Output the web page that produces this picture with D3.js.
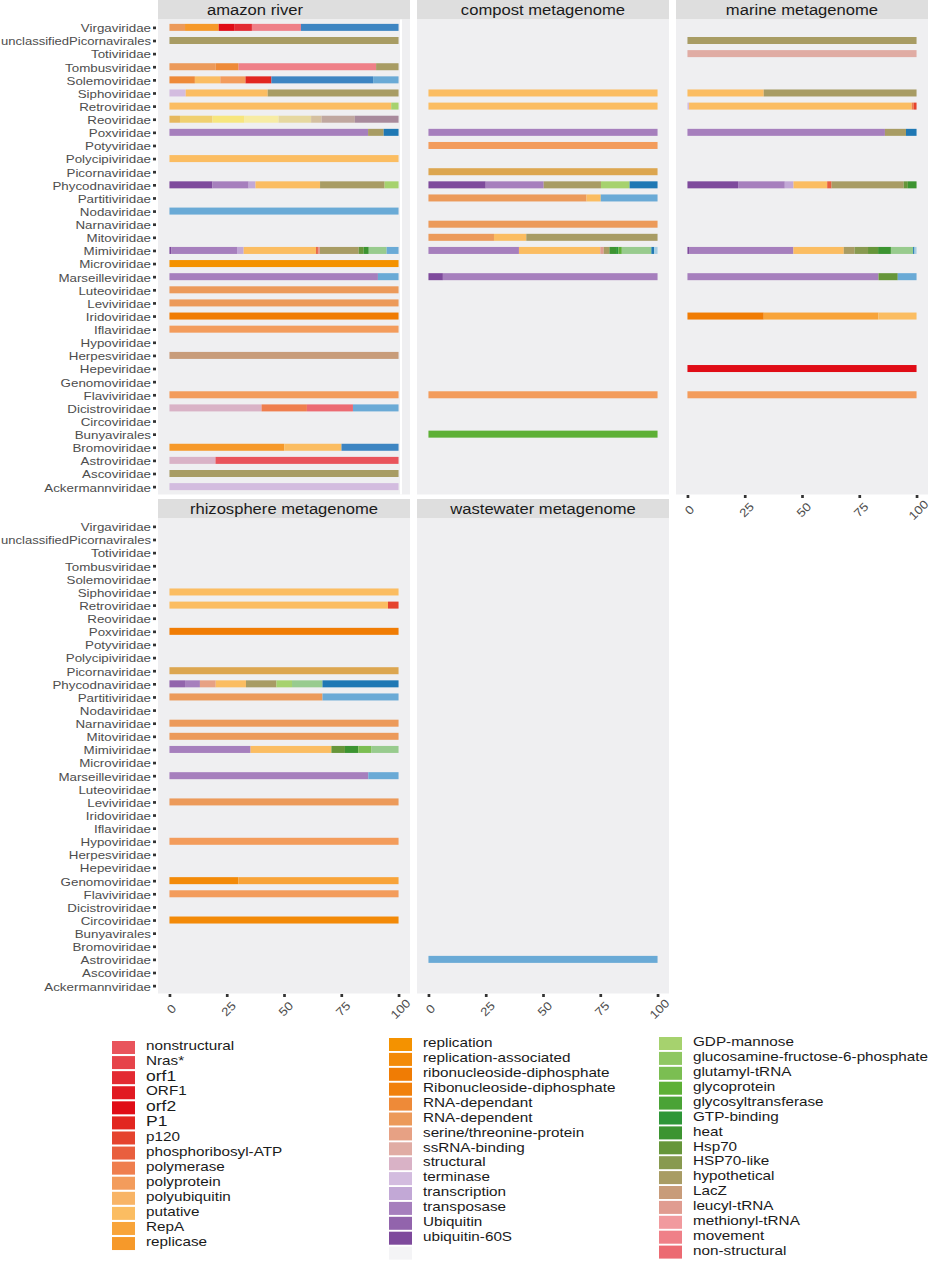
<!DOCTYPE html>
<html>
<head>
<meta charset="UTF-8">
<title>Viral protein annotations by environment</title>
<script src="https://d3js.org/d3.v7.min.js"></script>
<style>
  body { margin: 0; background: #fff; }
  text { font-family: "Liberation Sans", Arial, sans-serif; }
</style>
</head>
<body>
<svg id="chart"></svg>
<script>
// families, top to bottom
const families = ["Virgaviridae", "unclassifiedPicornavirales", "Totiviridae", "Tombusviridae",
  "Solemoviridae", "Siphoviridae", "Retroviridae", "Reoviridae", "Poxviridae", "Potyviridae",
  "Polycipiviridae", "Picornaviridae", "Phycodnaviridae", "Partitiviridae", "Nodaviridae",
  "Narnaviridae", "Mitoviridae", "Mimiviridae", "Microviridae", "Marseilleviridae", "Luteoviridae",
  "Leviviridae", "Iridoviridae", "Iflaviridae", "Hypoviridae", "Herpesviridae", "Hepeviridae",
  "Genomoviridae", "Flaviviridae", "Dicistroviridae", "Circoviridae", "Bunyavirales",
  "Bromoviridae", "Astroviridae", "Ascoviridae", "Ackermannviridae"];

const xTicks = [0, 25, 50, 75, 100];

// protein types, in factor order (legend shows the middle part only)
const hiddenLow = ["ATPase", "capsid", "coat", "DNA", "fiber"];
const hiddenLowColors = ["#a6cee3", "#6aaad6", "#3d85c2", "#1f78b4", "#98cb8e"];

const legendCol3 = ["GDP-mannose", "glucosamine-fructose-6-phosphate", "glutamyl-tRNA", "glycoprotein",
  "glycosyltransferase", "GTP-binding", "heat", "Hsp70", "HSP70-like", "hypothetical", "LacZ",
  "leucyl-tRNA", "methionyl-tRNA", "movement", "non-structural"];
const legendCol3Colors = ["#a6d26e", "#8fc762", "#7bbe52", "#5db036", "#4aa336", "#2e9638", "#3c9431",
  "#66963a", "#889a50", "#a89c64", "#c89c7a", "#e09c90", "#f19a9e", "#ef8088", "#ec6a72"];

const legendCol1 = ["nonstructural", "Nras*", "orf1", "ORF1", "orf2", "P1", "p120", "phosphoribosyl-ATP",
  "polymerase", "polyprotein", "polyubiquitin", "putative", "RepA", "replicase"];
const legendCol1Colors = ["#e9545c", "#e6434a", "#e32a32", "#e11a22", "#e00c16", "#e22620", "#e5432e",
  "#e95f3e", "#ef7e4e", "#f39c5c", "#f8b466", "#fbbd62", "#f8a43a", "#f6992a"];

const legendCol2 = ["replication", "replication-associated", "ribonucleoside-diphosphate",
  "Ribonucleoside-diphosphate", "RNA-dependant", "RNA-dependent", "serine/threonine-protein",
  "ssRNA-binding", "structural", "terminase", "transcription", "transposase", "Ubiquitin", "ubiquitin-60S", ""];
const legendCol2Colors = ["#f49200", "#f38a08", "#f07c04", "#f1800c", "#ee8a38", "#ec9a5a", "#e7a184",
  "#e0aca4", "#d9b2c6", "#d3bcdf", "#c2a8d6", "#a67fbd", "#9264ac", "#7e4a9c", "#f4f4f6"];

const hiddenHigh = ["VP1", "VP2", "VP3", "VP4", "VP5", "VP6", "VP7", "VP8", "VPg"];
const hiddenHighColors = ["#a88a9c", "#c0a8a0", "#d4c0a0", "#e6d8a0", "#f7eca4", "#f7e67e", "#f0d070",
  "#e6b85e", "#dca650"];

// percentage of annotated proteins per family: [family, type, value]
const amazonRiver = [
  ["Virgaviridae", "RNA-dependent", 6.8], ["Virgaviridae", "replicase", 14.7], ["Virgaviridae", "orf2", 7],
  ["Virgaviridae", "orf1", 7.5], ["Virgaviridae", "movement", 21.4], ["Virgaviridae", "coat", 42.6],
  ["unclassifiedPicornavirales", "hypothetical", 100],
  ["Tombusviridae", "RNA-dependent", 20.2], ["Tombusviridae", "RNA-dependant", 10],
  ["Tombusviridae", "movement", 60], ["Tombusviridae", "hypothetical", 9.8],
  ["Solemoviridae", "RNA-dependant", 11.1], ["Solemoviridae", "putative", 11.1], ["Solemoviridae", "polyprotein", 11],
  ["Solemoviridae", "P1", 11.3], ["Solemoviridae", "coat", 44.4], ["Solemoviridae", "capsid", 11.1],
  ["Siphoviridae", "terminase", 7.1], ["Siphoviridae", "putative", 35.8], ["Siphoviridae", "hypothetical", 57.1],
  ["Retroviridae", "putative", 96.8], ["Retroviridae", "GDP-mannose", 3.2],
  ["Reoviridae", "VP8", 4.6], ["Reoviridae", "VP7", 14.2], ["Reoviridae", "VP6", 14], ["Reoviridae", "VP5", 14.9],
  ["Reoviridae", "VP4", 14.2], ["Reoviridae", "VP3", 4.6], ["Reoviridae", "VP2", 14.5], ["Reoviridae", "VP1", 19.1],
  ["Poxviridae", "transposase", 86.7], ["Poxviridae", "hypothetical", 6.8], ["Poxviridae", "DNA", 6.5],
  ["Polycipiviridae", "putative", 100],
  ["Phycodnaviridae", "ubiquitin-60S", 18.8], ["Phycodnaviridae", "transposase", 15.8],
  ["Phycodnaviridae", "transcription", 3], ["Phycodnaviridae", "putative", 28.2],
  ["Phycodnaviridae", "hypothetical", 28.2], ["Phycodnaviridae", "GDP-mannose", 6.1],
  ["Nodaviridae", "capsid", 100],
  ["Mimiviridae", "ubiquitin-60S", 0.9], ["Mimiviridae", "transposase", 28.6], ["Mimiviridae", "transcription", 2.9],
  ["Mimiviridae", "putative", 31.6], ["Mimiviridae", "phosphoribosyl-ATP", 0.8], ["Mimiviridae", "leucyl-tRNA", 0.9],
  ["Mimiviridae", "hypothetical", 16.9], ["Mimiviridae", "Hsp70", 2.2], ["Mimiviridae", "heat", 2.2],
  ["Mimiviridae", "fiber", 7.8], ["Mimiviridae", "capsid", 5.2],
  ["Microviridae", "replication", 100],
  ["Marseilleviridae", "transposase", 91], ["Marseilleviridae", "capsid", 9],
  ["Luteoviridae", "RNA-dependent", 100], ["Leviviridae", "RNA-dependent", 100],
  ["Iridoviridae", "ribonucleoside-diphosphate", 100], ["Iflaviridae", "polyprotein", 100],
  ["Herpesviridae", "LacZ", 100], ["Flaviviridae", "polyprotein", 100],
  ["Dicistroviridae", "structural", 40.2], ["Dicistroviridae", "polymerase", 19.8],
  ["Dicistroviridae", "non-structural", 20.1], ["Dicistroviridae", "capsid", 19.9],
  ["Bromoviridae", "replicase", 50.1], ["Bromoviridae", "putative", 25], ["Bromoviridae", "coat", 24.9],
  ["Astroviridae", "structural", 20.1], ["Astroviridae", "nonstructural", 79.9],
  ["Ascoviridae", "hypothetical", 100], ["Ackermannviridae", "terminase", 100]
];

const compost = [
  ["Siphoviridae", "putative", 100], ["Retroviridae", "putative", 100], ["Poxviridae", "transposase", 100],
  ["Potyviridae", "polyprotein", 100], ["Picornaviridae", "VPg", 100],
  ["Phycodnaviridae", "ubiquitin-60S", 25], ["Phycodnaviridae", "transposase", 25.3],
  ["Phycodnaviridae", "hypothetical", 25], ["Phycodnaviridae", "GDP-mannose", 12.5], ["Phycodnaviridae", "DNA", 12.2],
  ["Partitiviridae", "RNA-dependent", 69], ["Partitiviridae", "putative", 6.2], ["Partitiviridae", "capsid", 24.8],
  ["Narnaviridae", "RNA-dependent", 100],
  ["Mitoviridae", "RNA-dependent", 28.6], ["Mitoviridae", "putative", 14.1], ["Mitoviridae", "hypothetical", 57.3],
  ["Mimiviridae", "transposase", 39.5], ["Mimiviridae", "putative", 35.5], ["Mimiviridae", "leucyl-tRNA", 1.5],
  ["Mimiviridae", "hypothetical", 2.5], ["Mimiviridae", "heat", 2.9], ["Mimiviridae", "GTP-binding", 1],
  ["Mimiviridae", "glycoprotein", 1.5], ["Mimiviridae", "fiber", 12.9], ["Mimiviridae", "DNA", 1.2],
  ["Mimiviridae", "ATPase", 1.5],
  ["Marseilleviridae", "ubiquitin-60S", 6.3], ["Marseilleviridae", "transposase", 93.7],
  ["Flaviviridae", "polyprotein", 100], ["Bunyavirales", "glycoprotein", 100]
];

const marine = [
  ["unclassifiedPicornavirales", "hypothetical", 100], ["Totiviridae", "ssRNA-binding", 100],
  ["Siphoviridae", "putative", 33.3], ["Siphoviridae", "hypothetical", 66.7],
  ["Retroviridae", "terminase", 0.7], ["Retroviridae", "putative", 97.2], ["Retroviridae", "polymerase", 0.9],
  ["Retroviridae", "p120", 1.2],
  ["Poxviridae", "transposase", 86.2], ["Poxviridae", "hypothetical", 9.2], ["Poxviridae", "DNA", 4.6],
  ["Phycodnaviridae", "ubiquitin-60S", 22.1], ["Phycodnaviridae", "transposase", 20.4],
  ["Phycodnaviridae", "transcription", 3.8], ["Phycodnaviridae", "putative", 14.7],
  ["Phycodnaviridae", "phosphoribosyl-ATP", 1.9], ["Phycodnaviridae", "hypothetical", 31.5],
  ["Phycodnaviridae", "Hsp70", 1.8], ["Phycodnaviridae", "heat", 3.8],
  ["Mimiviridae", "ubiquitin-60S", 0.7], ["Mimiviridae", "transposase", 45.6], ["Mimiviridae", "putative", 22],
  ["Mimiviridae", "hypothetical", 4.7], ["Mimiviridae", "HSP70-like", 5.9], ["Mimiviridae", "Hsp70", 4.4],
  ["Mimiviridae", "heat", 5.6], ["Mimiviridae", "fiber", 9.7], ["Mimiviridae", "DNA", 0.6],
  ["Mimiviridae", "ATPase", 0.9],
  ["Marseilleviridae", "transposase", 83.4], ["Marseilleviridae", "Hsp70", 8.4], ["Marseilleviridae", "capsid", 8.2],
  ["Iridoviridae", "ribonucleoside-diphosphate", 33.3], ["Iridoviridae", "RepA", 50], ["Iridoviridae", "putative", 16.7],
  ["Hepeviridae", "orf2", 100], ["Flaviviridae", "polyprotein", 100]
];

const rhizosphere = [
  ["Siphoviridae", "putative", 100],
  ["Retroviridae", "putative", 95.4], ["Retroviridae", "p120", 4.6],
  ["Poxviridae", "ribonucleoside-diphosphate", 100], ["Picornaviridae", "VPg", 100],
  ["Phycodnaviridae", "Ubiquitin", 6.8], ["Phycodnaviridae", "transposase", 6.5],
  ["Phycodnaviridae", "serine/threonine-protein", 6.9], ["Phycodnaviridae", "putative", 13.2],
  ["Phycodnaviridae", "hypothetical", 13.3], ["Phycodnaviridae", "GDP-mannose", 6.8],
  ["Phycodnaviridae", "fiber", 13.3], ["Phycodnaviridae", "DNA", 33.2],
  ["Partitiviridae", "RNA-dependent", 66.8], ["Partitiviridae", "capsid", 33.2],
  ["Narnaviridae", "RNA-dependent", 100], ["Mitoviridae", "RNA-dependent", 100],
  ["Mimiviridae", "transposase", 35.4], ["Mimiviridae", "putative", 35.3], ["Mimiviridae", "Hsp70", 5.9],
  ["Mimiviridae", "heat", 5.8], ["Mimiviridae", "glutamyl-tRNA", 5.8], ["Mimiviridae", "fiber", 11.8],
  ["Marseilleviridae", "transposase", 86.8], ["Marseilleviridae", "capsid", 13.2],
  ["Leviviridae", "RNA-dependent", 100], ["Hypoviridae", "polyprotein", 100],
  ["Genomoviridae", "replication-associated", 30.1], ["Genomoviridae", "RepA", 69.9],
  ["Flaviviridae", "polyprotein", 100], ["Circoviridae", "replication-associated", 100]
];

const wastewater = [
  ["Astroviridae", "capsid", 100]
];

// ---- colour lookup and stacking order
const typeOrder = hiddenLow.concat(legendCol3, legendCol1, legendCol2.filter(d => d !== ""), hiddenHigh);
const typeColors = hiddenLowColors.concat(legendCol3Colors, legendCol1Colors,
  legendCol2Colors.slice(0, legendCol2.length - 1), hiddenHighColors);
const color = d3.scaleOrdinal().domain(typeOrder).range(typeColors);
// ggplot stacks the first level on the right, so go left to right in reverse order
const stackKeys = typeOrder.slice().reverse();

const W = 941, H = 1261;
const svg = d3.select("#chart").attr("width", W).attr("height", H);

// the picture is a bit wider than tall, so text glyphs are stretched sideways
const STRETCH = 1.13;
function stretch(sel, maxW) {
  sel.each(function() {
    const w = this.getComputedTextLength();
    if (!w) return;
    let target = w * STRETCH;
    if (maxW && target > maxW) target = maxW;
    d3.select(this).attr("textLength", target).attr("lengthAdjust", "spacingAndGlyphs");
  });
}

const panelW = 252, stripH = 19.5, panelH = 475;
const colX = [158, 417, 676];
const rowY = [0, 499];

const panels = [
  {name: "amazon river", data: amazonRiver, col: 0, row: 0, yAxis: true, xAxis: false, gridLine: true, titleShift: -29},
  {name: "compost metagenome", data: compost, col: 1, row: 0, yAxis: false, xAxis: false},
  {name: "marine metagenome", data: marine, col: 2, row: 0, yAxis: false, xAxis: true},
  {name: "rhizosphere metagenome", data: rhizosphere, col: 0, row: 1, yAxis: true, xAxis: true},
  {name: "wastewater metagenome", data: wastewater, col: 1, row: 1, yAxis: false, xAxis: true}
];

panels.forEach(p => {
  const x0 = colX[p.col];
  const top = rowY[p.row];
  const pTop = top + stripH;
  const g = svg.append("g");

  // strip
  g.append("rect").attr("x", x0).attr("y", top).attr("width", panelW).attr("height", stripH)
    .attr("fill", "#dedede");
  g.append("text").attr("x", x0 + panelW / 2 + (p.titleShift || 0)).attr("y", top + 15)
    .attr("text-anchor", "middle").attr("font-size", "14.7px").attr("fill", "#1a1a1a")
    .text(p.name)
    .call(stretch);

  // panel
  g.append("rect").attr("x", x0).attr("y", pTop).attr("width", panelW).attr("height", panelH)
    .attr("fill", "#efeff1");

  const x = d3.scaleLinear().domain([-5, 105]).range([x0, x0 + panelW]);
  const y = d3.scalePoint().domain(families).range([pTop, pTop + panelH]).padding(0.6);

  if (p.gridLine) {
    g.append("line").attr("x1", x(100) + 2.5).attr("x2", x(100) + 2.5)
      .attr("y1", pTop).attr("y2", pTop + panelH)
      .attr("stroke", "#fff").attr("stroke-width", 2);
  }

  // table for the stack
  const present = families.filter(f => p.data.some(d => d[0] === f));
  const table = present.map(f => {
    const row = {family: f};
    stackKeys.forEach(k => row[k] = 0);
    p.data.filter(d => d[0] === f).forEach(d => row[d[1]] += d[2]);
    return row;
  });
  const series = d3.stack().keys(stackKeys).offset(d3.stackOffsetExpand)(table);

  const barH = 7;
  g.selectAll("g.series")
    .data(series)
    .join("g")
    .attr("class", "series")
    .attr("fill", s => color(s.key))
    .selectAll("rect")
    .data(s => s.filter(d => d[1] - d[0] > 0))
    .join("rect")
    .attr("x", d => x(d[0] * 100))
    .attr("y", d => y(d.data.family) - barH / 2)
    .attr("width", d => x(d[1] * 100) - x(d[0] * 100))
    .attr("height", barH);

  // y axis
  if (p.yAxis) {
    const ya = g.append("g").attr("transform", `translate(${x0 - 2},0)`)
      .call(d3.axisLeft(y).tickSize(3).tickPadding(2));
    ya.select(".domain").remove();
    ya.selectAll("line").attr("stroke", "#333").attr("stroke-width", 2.7);
    ya.selectAll("text").attr("font-size", "11.8px").attr("fill", "#4d4d4d").attr("dy", "0.37em")
      .attr("font-family", "Liberation Sans, Arial, sans-serif")
      .call(stretch, x0 - 8);
  }

  // x axis
  if (p.xAxis) {
    const bottom = pTop + panelH;
    const xa = g.append("g").attr("transform", `translate(0,${bottom + 0.5})`)
      .call(d3.axisBottom(x).tickValues(xTicks).tickSize(3).tickFormat(d3.format("d")));
    xa.select(".domain").remove();
    xa.selectAll("line").attr("stroke", "#333").attr("stroke-width", 2.7);
    xa.selectAll("text")
      .attr("font-size", "11.8px").attr("fill", "#4d4d4d")
      .attr("font-family", "Liberation Sans, Arial, sans-serif")
      .attr("text-anchor", "middle").attr("dy", null).attr("y", null)
      .attr("dominant-baseline", "central")
      .attr("transform", "translate(1.5,15) rotate(-45)")
      .call(stretch);
  }
});

// ---- legend (three visible columns)
const legendCols = [
  {labels: legendCol1, colors: legendCol1Colors, keyX: 112, textX: 146, top: 1041, step: 15.08},
  {labels: legendCol2, colors: legendCol2Colors, keyX: 389, textX: 423, top: 1038, step: 14.9},
  {labels: legendCol3, colors: legendCol3Colors, keyX: 659, textX: 693, top: 1037, step: 14.9}
];
const odd = ["orf1", "orf2", "P1"];

legendCols.forEach(c => {
  const lg = svg.append("g");
  const item = lg.selectAll("g").data(c.labels.map((l, i) => ({label: l, color: c.colors[i], i})))
    .join("g").attr("transform", d => `translate(0,${c.top + d.i * c.step})`);
  item.append("rect").attr("x", c.keyX).attr("y", 0).attr("width", 23).attr("height", 13)
    .attr("fill", d => d.color);
  item.append("text").attr("x", c.textX).attr("y", d => odd.includes(d.label) ? 10 : 9.2)
    .attr("font-size", d => odd.includes(d.label) ? "15.5px" : "13.5px")
    .attr("font-family", d => odd.includes(d.label) ? "DejaVu Sans, sans-serif" : "Liberation Sans, Arial, sans-serif")
    .attr("fill", "#1a1a1a")
    .text(d => d.label)
    .call(stretch);
});
</script>
</body>
</html>
